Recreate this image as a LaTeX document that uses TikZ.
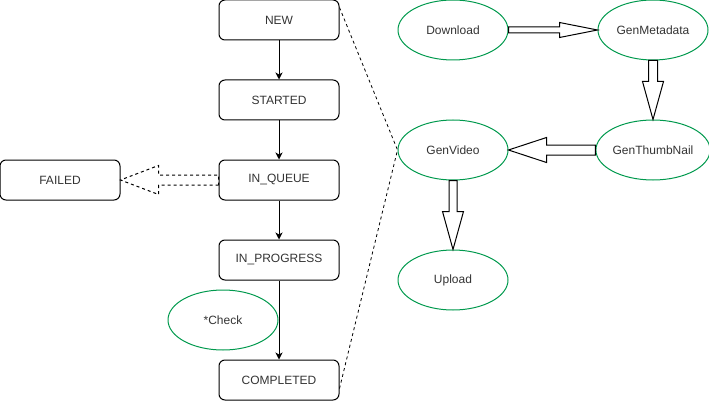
\documentclass[tikz,border=0pt]{standalone}
\usepackage{fontspec}
\setmainfont{Liberation Sans}
\usetikzlibrary{shapes.geometric,arrows.meta,calc}

\definecolor{StateGreen}{RGB}{0,153,77}
\definecolor{TextGray}{RGB}{51,51,51}

\tikzstyle{Block}=[rectangle,draw=black,rounded corners=6pt,line width=1pt,
  align=center,minimum height=40pt,minimum width=120pt,inner sep=0pt,
  text=TextGray,font=\fontsize{12pt}{14pt}\selectfont]
\tikzstyle{Step}=[ellipse,draw=StateGreen,line width=1pt,
  minimum height=60pt,minimum width=110pt,inner sep=0pt,
  text=TextGray,font=\fontsize{12pt}{14pt}\selectfont]
\tikzstyle{ArrowObject}=[black,line width=1pt,-{Stealth[length=7pt,width=7pt,inset=2pt]}]
\tikzstyle{BlockLine}=[black,line width=1pt,line join=miter]
\tikzstyle{ZoomLine}=[black,line width=0.8pt,dashed]

% block arrow: [style]{from}{to}{half shaft}{half head}
\newcommand{\BlockArrow}[5][]{%
  \draw[BlockLine,#1] ($(#2)!#4!90:(#3)$) -- ($(#3)!38pt!(#2)!#4!-90:(#2)$)
    -- ($(#3)!38pt!(#2)!#5!-90:(#2)$) -- (#3)
    -- ($(#3)!38pt!(#2)!#5!90:(#2)$) -- ($(#3)!38pt!(#2)!#4!90:(#2)$)
    -- ($(#2)!#4!-90:(#3)$) -- cycle;}

\begin{document}
\begin{tikzpicture}[x=1pt, y=-1pt]
		\useasboundingbox (0,0) rectangle (709,401);
		
		% Job states
		\draw(279,20) node[Block] (New) {NEW};
		\draw(279,100) node[Block] (Started) {STARTED};
		\draw(279,180) node[Block] (InQueue) {IN\_QUEUE};
		\draw(279,260) node[Block] (InProgress) {IN\_PROGRESS};
		\draw(279,380) node[Block] (Completed) {COMPLETED};
		\draw(60,180) node[Block] (Failed) {FAILED};
		\draw(223,320) node[Step] (Check) {*Check};
		% Job state arrows
		\draw[ArrowObject] (New.south) -- (Started.north);
		\draw[ArrowObject] (Started.south) -- (InQueue.north);
		\draw[ArrowObject] (InQueue.south) -- (InProgress.north);
		\draw[ArrowObject] (InProgress.south) -- (Completed.north);
		\BlockArrow[dashed]{InQueue.west}{Failed.east}{5pt}{14.5pt}
		
		% Processing steps
		\draw(453,30) node[Step] (Download) {Download};
		\draw(653,30) node[Step] (GenMetadata) {GenMetadata};
		\draw(653,150) node[Step] (GenThumbNail) {GenThumbNail};
		\draw(453,150) node[Step] (GenVideo) {GenVideo};
		\draw(453,280) node[Step] (Upload) {Upload};
		% Processing step arrows
		\BlockArrow{Download.east}{GenMetadata.west}{3pt}{7.5pt}
		\BlockArrow{GenMetadata.south}{GenThumbNail.north}{4.5pt}{10.5pt}
		\BlockArrow{GenThumbNail.west}{GenVideo.east}{5pt}{12.5pt}
		\BlockArrow{GenVideo.south}{Upload.north}{4pt}{10.5pt}
		
		% Zoom lines
		\draw[ZoomLine] ([yshift=-8pt]New.north east) -- (GenVideo.west);
		\draw[ZoomLine] ([yshift=12pt]Completed.south east) -- (GenVideo.west);
		
	\end{tikzpicture}
\end{document}
